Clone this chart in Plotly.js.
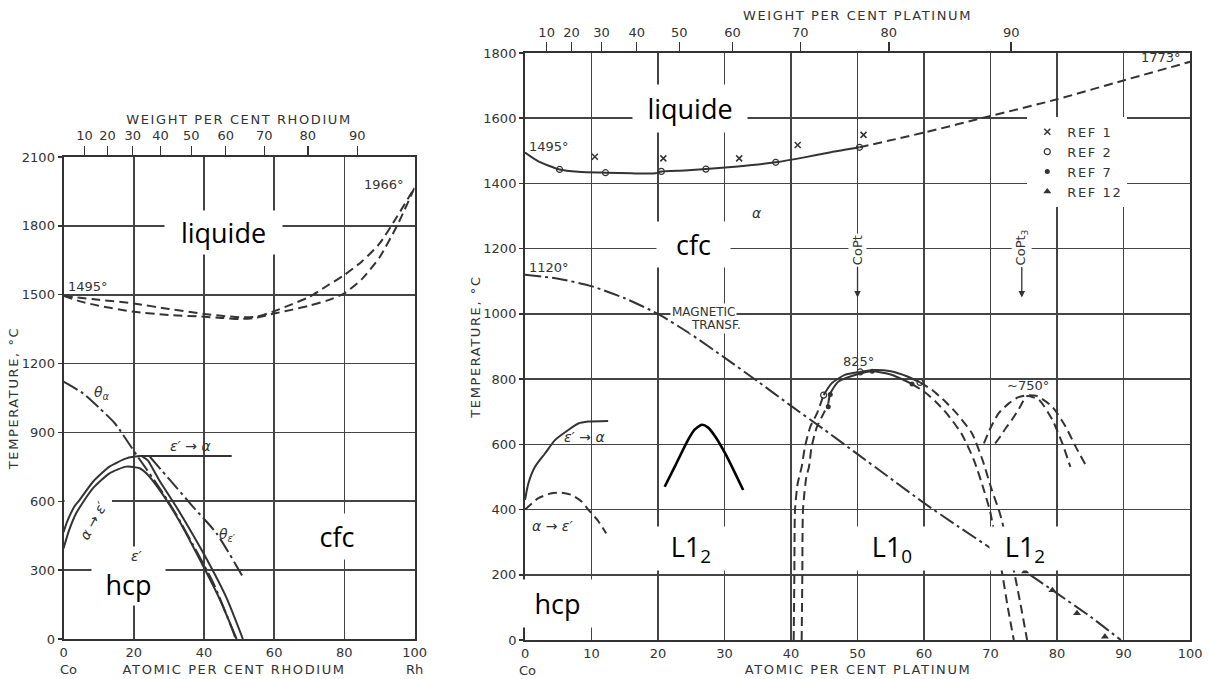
<!DOCTYPE html>
<html><head><meta charset="utf-8">
<script src="https://cdn.plot.ly/plotly-3.0.1.min.js"></script>
<style>
html,body{margin:0;padding:0;background:#fff;}
#chart{width:1210px;height:679px;}
.xtitle,.x2title,.x3title,.x4title,.ytitle,.y2title{letter-spacing:1.6px;}
.legendtext{letter-spacing:1.6px;}
g.annotation[data-index="0"] text, g.annotation[data-index="1"] text{letter-spacing:1.6px;}
</style></head>
<body><div id="chart"></div>
<script>
// ---------- Co-Rh (left) ----------
const rhBottomTicks=[0,20,40,60,80,100];
const rhTempTicks=[0,300,600,900,1200,1500,1800,2100];
const rhWtVals=[6.0,12.5,19.7,27.6,36.4,46.2,57.2,69.6,83.7];
const rhWtText=['10','20','30','40','50','60','70','80','90'];
const rhLiqX=[0,10,20,30,40,45,50,55,60,65,70,75,80,85,90,95,100];
const rhLiqT=[1495,1478,1462,1438,1416,1408,1402,1404,1428,1458,1490,1538,1586,1645,1722,1840,1966];
const rhSolX=[0,5,10,20,30,40,45,50,55,60,65,70,75,80,85,90,95,100];
const rhSolT=[1495,1470,1452,1426,1412,1404,1399,1394,1400,1418,1434,1452,1474,1506,1568,1662,1800,1966];
const rhUpX=[0,1,2,3,4.6,8.4,13.1,17.9,21.7,30,40,47.9];
const rhUpT=[465,510,545,575,606,685,751,787,797,797,797,797];
const rhDownX=[22.3,24,25.5,27.4,32.2,36.9,41.7,46.5,51.1];
const rhDownT=[797,778,740,688,574,453,322,177,0];
const rhLowX=[0,1.5,3.6,8.4,13.1,17.9,21.7,23.6,28.4,33.1,38.9,44.6,49.3];
const rhLowT=[395,470,548,657,722,751,744,722,627,511,344,170,0];
const rhThetaAX=[0,5.5,10.3,14.6,20.8,27.4,32.2,36.9,42.7,48.4,49];
const rhThetaAT=[1121,1071,1005,940,802,657,540,410,243,29,0];
const rhThetaEX=[24.6,30.3,36.9,43.6,51.2];
const rhThetaET=[794,693,576,460,268];

// ---------- Co-Pt (right) ----------
const ptBottomTicks=[0,10,20,30,40,50,60,70,80,90,100];
const ptTempTicks=[0,200,400,600,800,1000,1200,1400,1600,1800];
const ptWtVals=[3.25,7.0,11.5,16.8,23.2,31.2,41.4,54.7,73.1];
const ptWtText=['10','20','30','40','50','60','70','80','90'];
const ptLiqSolidX=[0,2,5.2,8,12.1,16,19.6,20.5,24,27.2,32,37.7,42,46,50.3];
const ptLiqSolidT=[1495,1468,1443,1436,1433,1431,1431,1437,1440,1444,1452,1465,1480,1496,1511];
const ptLiqDashX=[50.3,60,70,80,90,100];
const ptLiqDashT=[1511,1556,1607,1658,1716,1773];
const magX=[0,5,10,15,20,25,30,35,40,45,50,55,60,65,70,75.2,80,85,89.6];
const magT=[1120,1108,1085,1048,1000,937,866,793,718,645,570,495,420,350,282,210,143,72,0];
const epsAlphaX=[0,0.5,1.5,3,4.5,6.5,8,9.5,12.5];
const epsAlphaT=[430,480,531,572,613,644,664,670,672];
const alphaEpsX=[0,2,4,5.5,7,8.5,9.5,11,12.2];
const alphaEpsT=[400,435,450,452,445,425,400,365,327];
const l10OutLeftX=[40.4,40.5,40.6,41.0,41.6,42.1,42.9,43.9,44.9];
const l10OutLeftT=[0,200,400,480,531,593,654,695,751];
const l10OutTopX=[44.9,46.1,48.1,50.4,52.5,55,57.5,59.4];
const l10OutTopT=[751,787,813,822,828,824,808,790];
const l10OutRightX=[59.4,61.2,63,64.9,67.2,68.8,70.2,71.4,72.5,73.6,74.6,75.5];
const l10OutRightT=[790,767,735,695,634,552,460,389,300,204,100,0];
const l10InLeftX=[41.6,41.7,41.8,42.3,42.7,43.1,43.9,44.9,45.6];
const l10InLeftT=[0,200,400,500,531,593,654,695,725];
const l10InTopX=[45.6,45.9,47.1,50,52.2,55,58.2];
const l10InTopT=[725,756,792,815,824,814,785];
const l10InRightX=[58.2,60,61.8,63.4,65.6,67.5,69,70,70.8,71.7,72.6,73.5];
const l10InRightT=[785,762,730,695,634,552,460,389,300,210,100,0];
const l12OutX=[69,70,71.2,72.7,74.2,75.4,77,79.3,81.3,82.8,84.3];
const l12OutT=[603,650,695,725,745,750,748,715,654,593,537];
const l12InX=[70.7,71.5,72.3,73.2,74.3,75.5,77.3,79.3,80.8,82];
const l12InT=[603,625,650,675,710,748,736,675,603,531];
const sketchX=[21,22.5,24.5,25.5,26.6,27.5,28.6,30.1,31.6,32.8];
const sketchT=[470,531,613,645,660,652,624,572,511,460];
const ref1X=[10.5,20.8,32.2,41,50.9];
const ref1T=[1482,1477,1477,1518,1549];
const ref2X=[5.2,12.1,20.5,27.2,37.7,50.3,44.9,50.4,59.4];
const ref2T=[1443,1433,1437,1444,1465,1511,751,822,790];
const ref7X=[45.6,45.9,52.2,58.2];
const ref7T=[715,753,824,785];
const ref12X=[75.2,79.3,83,87.2];
const ref12T=[210,153,82,10];

const INK='#333';
const DASH='9px,5px';
const DASHDOT='16px,4px,3px,4px';
function line(x,y,ax,dash,w,color){
  return {x:x,y:y,xaxis:ax[0],yaxis:ax[1],mode:'lines',type:'scatter',showlegend:false,hoverinfo:'skip',
    line:{color:color||INK,width:w||2,dash:dash||'solid',shape:'spline',smoothing:0.6}};
}
function axisHolder(vals,xa,ya){
  return {x:vals,y:vals.map(function(){return null;}),xaxis:xa,yaxis:ya,mode:'markers',type:'scatter',
    showlegend:false,hoverinfo:'skip',marker:{size:1,opacity:0}};
}
const L=['x','y'], R=['x2','y2'];
const traces=[
  line(rhLiqX,rhLiqT,L,DASH),
  line(rhSolX,rhSolT,L,DASH),
  line(rhUpX,rhUpT,L),
  line(rhDownX,rhDownT,L),
  line(rhLowX,rhLowT,L),
  line(rhThetaAX,rhThetaAT,L,DASHDOT),
  line(rhThetaEX,rhThetaET,L,DASHDOT),
  line(ptLiqSolidX,ptLiqSolidT,R),
  line(ptLiqDashX,ptLiqDashT,R,DASH),
  line(magX,magT,R,DASHDOT),
  line(epsAlphaX,epsAlphaT,R),
  line(alphaEpsX,alphaEpsT,R,DASH),
  line(l10OutLeftX,l10OutLeftT,R,DASH),
  line(l10OutTopX,l10OutTopT,R),
  line(l10OutRightX,l10OutRightT,R,DASH),
  line(l10InLeftX,l10InLeftT,R,DASH),
  line(l10InTopX,l10InTopT,R),
  line(l10InRightX,l10InRightT,R,DASH),
  line(l12OutX,l12OutT,R,DASH),
  line(l12InX,l12InT,R,DASH),
  line(sketchX,sketchT,R,'solid',2.6,'#000'),
  axisHolder(rhWtVals,'x3','y'),
  axisHolder(ptWtVals,'x4','y2'),
  {x:ref1X,y:ref1T,xaxis:'x2',yaxis:'y2',mode:'markers',type:'scatter',name:'REF 1',hoverinfo:'skip',
   marker:{symbol:'x-thin-open',size:6,color:INK,line:{color:INK,width:1.5}}},
  {x:ref2X,y:ref2T,xaxis:'x2',yaxis:'y2',mode:'markers',type:'scatter',name:'REF 2',hoverinfo:'skip',
   marker:{symbol:'circle-open',size:6,color:INK,line:{color:INK,width:1.2}}},
  {x:ref7X,y:ref7T,xaxis:'x2',yaxis:'y2',mode:'markers',type:'scatter',name:'REF 7',hoverinfo:'skip',
   marker:{symbol:'circle',size:5,color:INK}},
  {x:ref12X,y:ref12T,xaxis:'x2',yaxis:'y2',mode:'markers',type:'scatter',name:'REF 12',hoverinfo:'skip',
   marker:{symbol:'triangle-up',size:7,color:INK}}
];

const tf={family:'DejaVu Sans, sans-serif',size:13,color:INK};
const sf={family:'DejaVu Sans, sans-serif',size:12,color:INK};
const gf={family:'DejaVu Sans, sans-serif',size:14,color:INK,style:'italic'};
const bf={family:'Open Sans, sans-serif',size:27,color:'#000'};
const GRID='#444';
function baseX(domain,ticks,anchor){
  return {type:'linear',domain:domain,range:[0,100],tickvals:ticks,ticktext:ticks.map(String),ticks:'',showgrid:true,gridcolor:GRID,gridwidth:1.6,
    showline:true,mirror:true,linecolor:INK,linewidth:2,zeroline:false,anchor:anchor,tickfont:tf,fixedrange:true,ticklabelstandoff:0};
}
function baseY(domain,range,ticks,anchor){
  return {type:'linear',domain:domain,range:range,tickvals:ticks,ticks:'outside',ticklen:4,tickcolor:INK,tickwidth:1.5,showgrid:true,gridcolor:GRID,gridwidth:1.6,
    showline:true,mirror:true,linecolor:INK,linewidth:2,zeroline:false,anchor:anchor,tickfont:tf,fixedrange:true,
    title:{text:'TEMPERATURE, °C',font:tf,standoff:0}};
}
function topX(over,vals,text,title,standoff,lstand){
  return {type:'linear',overlaying:over,anchor:over==='x'?'y':'y2',side:'top',range:[0,100],tickvals:vals,ticktext:text,ticks:'outside',ticklen:10,
    tickwidth:1.5,tickcolor:INK,showgrid:false,zeroline:false,showline:false,tickfont:tf,fixedrange:true,ticklabelstandoff:lstand,
    title:{text:title,font:tf,standoff:standoff}};
}
function box(text,x,y,xr,yr,w,h){
  return {text:text,x:x,y:y,xref:xr,yref:yr,showarrow:false,bgcolor:'#fff',width:w,height:h,borderpad:0,font:bf,xanchor:'center',yanchor:'middle'};
}
function lab(text,x,y,xr,yr,opts){
  return Object.assign({text:text,x:x,y:y,xref:xr,yref:yr,showarrow:false,font:sf,xanchor:'center',yanchor:'middle'},opts||{});
}
const annotations=[
  lab('ATOMIC PER CENT RHODIUM',48.6,0.0147,'x','paper',{font:tf}),
  lab('ATOMIC PER CENT PLATINUM',50.1,0.0147,'x2','paper',{font:tf}),
  lab('Co',1.4,0.0147,'x','paper',{font:tf}),
  lab('Rh',100,0.0147,'x','paper',{font:tf}),
  lab('Co',0.4,0.0118,'x2','paper',{font:tf}),
  lab('Pt',100.7,0.0147,'x2','paper',{font:tf}),
  // left chart labels
  lab('1495°',0.8,1534,'x','y',{xanchor:'left',font:tf}),
  lab('1966°',97.6,1982,'x','y',{xanchor:'right',font:tf}),
  lab('θ<sub>α</sub>',11.1,1070,'x','y',{font:gf}),
  lab('ε′ → α',36.1,839,'x','y',{font:gf}),
  lab('α → ε′',8.4,514,'x','y',{font:gf,textangle:-61}),
  lab('θ<sub>ε′</sub>',46.7,453,'x','y',{font:gf}),
  lab('ε′',21,362,'x','y',{font:gf,bgcolor:'#fff'}),
  box('liquide',45.5,1769,'x','y',117,43),
  box('cfc',78,446,'x','y',60,45),
  box('hcp',18.4,240,'x','y',73,42),
  // right chart labels
  lab('1495°',0.3,1512,'x2','y2',{xanchor:'left',font:tf}),
  lab('1120°',0.3,1142,'x2','y2',{xanchor:'left',font:tf}),
  lab('1773°',98.9,1786,'x2','y2',{xanchor:'right',font:tf}),
  lab('α',34.9,1309,'x2','y2',{font:gf}),
  lab('MAGNETIC',26.8,1006,'x2','y2',{bgcolor:'#fff'}),
  lab('TRANSF.',28.7,966,'x2','y2',{bgcolor:'#fff'}),
  lab('825°',50.2,853,'x2','y2',{font:tf}),
  lab('~750°',75.6,779,'x2','y2',{font:tf}),
  lab('ε′ → α',9,624,'x2','y2',{font:gf}),
  lab('α → ε′',4.2,350,'x2','y2',{font:gf}),
  {text:'CoPt',x:50,y:1050,xref:'x2',yref:'y2',textangle:-90,showarrow:true,arrowhead:2,arrowsize:1,arrowwidth:1.3,arrowcolor:INK,
   ax:0,ay:-47,bgcolor:'#fff',font:tf},
  {text:'CoPt<sub>3</sub>',x:74.7,y:1050,xref:'x2',yref:'y2',textangle:-90,showarrow:true,arrowhead:2,arrowsize:1,arrowwidth:1.3,arrowcolor:INK,
   ax:0,ay:-50,bgcolor:'#fff',font:tf},
  box('liquide',24.8,1630,'x2','y2',114,47),
  box('cfc',25.3,1213,'x2','y2',73,45),
  box('hcp',4.9,112,'x2','y2',75,47),
  box('L1<sub>2</sub>',25,281,'x2','y2',72,43),
  box('L1<sub>0</sub>',55.2,281,'x2','y2',70,43),
  box('L1<sub>2</sub>',75.2,281,'x2','y2',70,43)
];
const shapes=[
  {type:'rect',xref:'x',yref:'y',x0:0.3,x1:13.8,y0:588,y1:612,fillcolor:'#fff',line:{width:0},layer:'between'}
];
const layout={
  width:1210,height:679,margin:{l:0,r:0,t:0,b:0},paper_bgcolor:'#fff',plot_bgcolor:'#fff',
  showlegend:true,
  legend:{x:0.849,y:0.828,xanchor:'left',yanchor:'top',bgcolor:'#fff',borderwidth:0,font:tf,tracegroupgap:0,itemwidth:30},
  xaxis:baseX([0.0525,0.3426],rhBottomTicks,'y'),
  yaxis:baseY([0.0589,0.7688],[0,2100],rhTempTicks,'x'),
  xaxis2:baseX([0.4339,0.9835],ptBottomTicks,'y2'),
  yaxis2:baseY([0.0574,0.9219],[0,1800],ptTempTicks,'x2'),
  xaxis3:topX('x',rhWtVals,rhWtText,'WEIGHT PER CENT RHODIUM',0,1),
  xaxis4:topX('x2',ptWtVals,ptWtText,'WEIGHT PER CENT PLATINUM',1,0),
  annotations:annotations,shapes:shapes
};
Plotly.newPlot('chart',traces,layout,{displayModeBar:false,staticPlot:true});
</script></body></html>
